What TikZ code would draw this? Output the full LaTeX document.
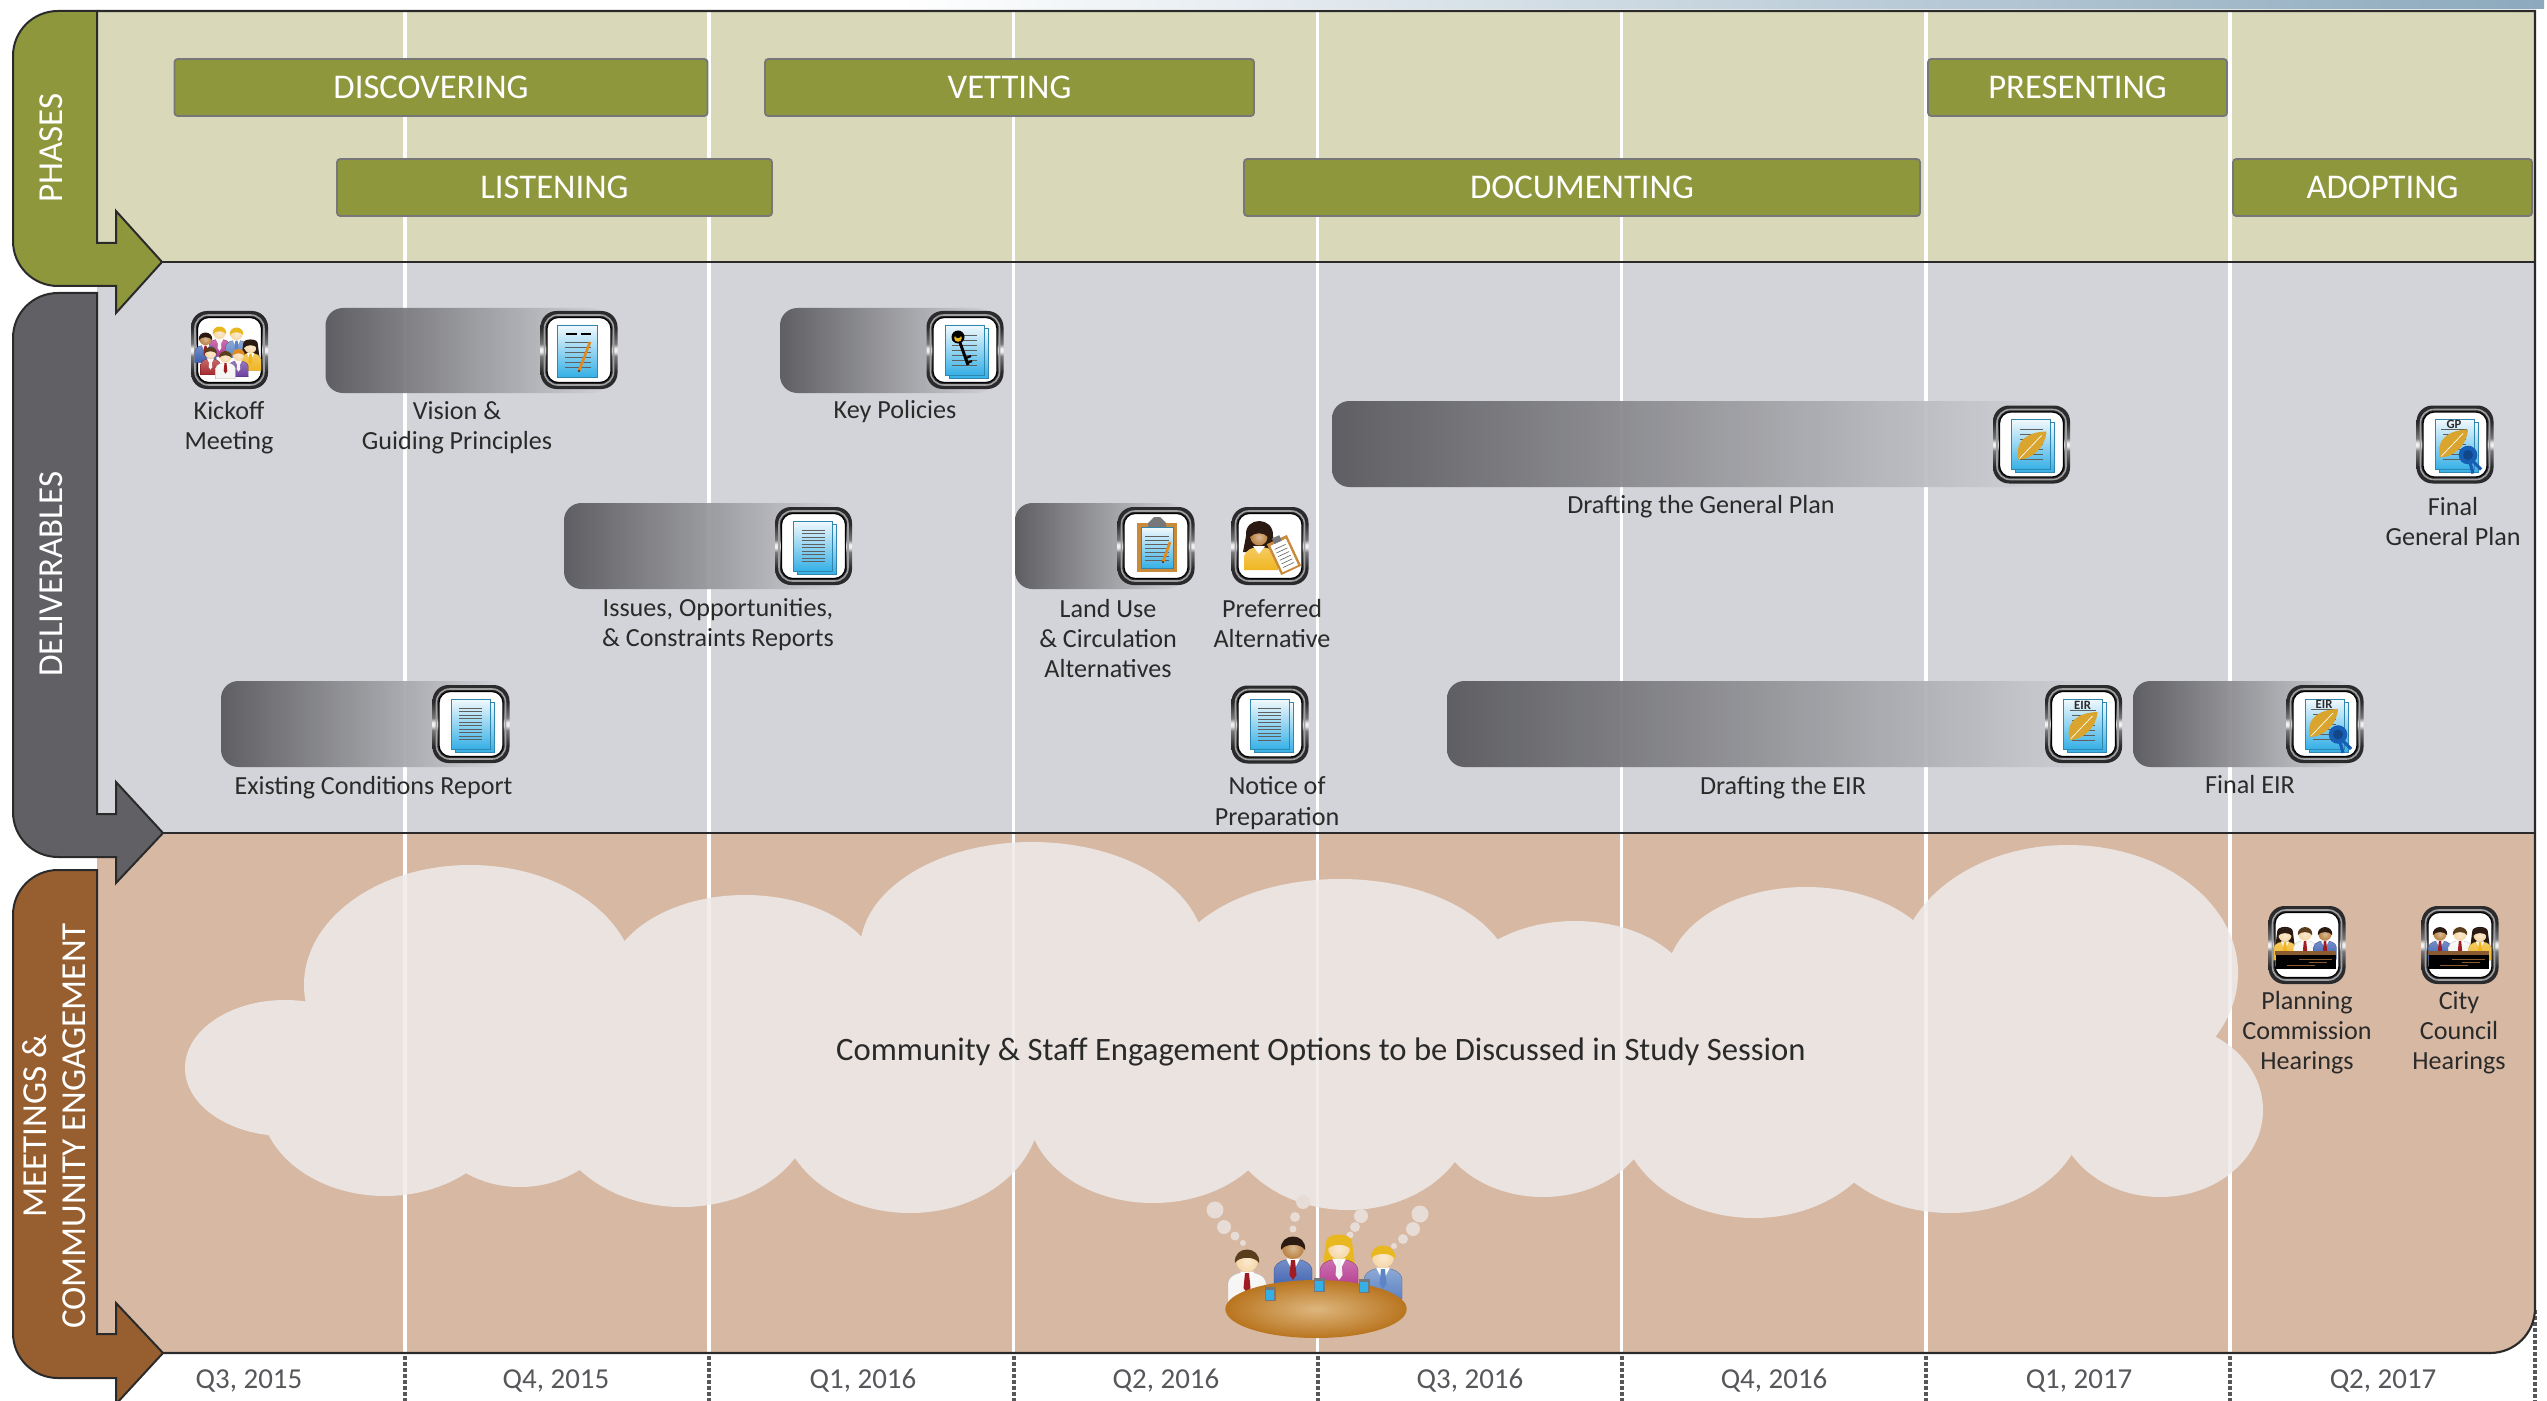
\documentclass[tikz,border=0pt]{standalone}
\usepackage{fontspec}
\setmainfont{Carlito}
\definecolor{phasePanel}{HTML}{D9D9B9}
\definecolor{delivPanel}{HTML}{D3D4D9}
\definecolor{meetPanel}{HTML}{D6B8A3}
\definecolor{olive}{HTML}{8E973C}
\definecolor{slate}{HTML}{616165}
\definecolor{rust}{HTML}{975F30}
\definecolor{ink}{HTML}{2A2A2A}
\definecolor{quarter}{HTML}{56575B}
\definecolor{cloudc}{HTML}{EFEBEB}
\definecolor{bubble}{HTML}{E7DCD6}
\definecolor{barDark}{HTML}{57575B}
\definecolor{metalD}{HTML}{2B2B2D}
\definecolor{metalM}{HTML}{77777A}
\definecolor{metalL}{HTML}{F0F0F0}
\definecolor{pageTop}{HTML}{F2F9FD}
\definecolor{pageMid}{HTML}{C4E6F5}
\definecolor{pageBot}{HTML}{35B0E6}
\definecolor{pageEdge}{HTML}{2F86AE}
\definecolor{skinL}{HTML}{F6D7A7}
\definecolor{skinD}{HTML}{B9803F}
\definecolor{hairB}{HTML}{5A3D1C}
\definecolor{hairK}{HTML}{2A1A12}
\definecolor{hairY}{HTML}{E9B71E}
\definecolor{hairO}{HTML}{E08A20}
\definecolor{shW}{HTML}{F4F4F2}
\definecolor{shB}{HTML}{3B5FB0}
\definecolor{shM}{HTML}{B5378F}
\definecolor{shL}{HTML}{5D84C4}
\definecolor{shR}{HTML}{A82A2E}
\definecolor{shY}{HTML}{F0B520}
\definecolor{shP}{HTML}{6B3FA0}
\definecolor{tieR}{HTML}{A01C22}
\definecolor{leafc}{HTML}{D9A52E}
\definecolor{ribbon}{HTML}{175FB5}
\definecolor{tableIn}{HTML}{DDB67E}
\definecolor{tableOut}{HTML}{B9751F}
\definecolor{board}{HTML}{C98A3C}
\definecolor{deskc}{HTML}{8A5A30}
\definecolor{topBlue}{HTML}{8CA9BD}
\pgfdeclareverticalshading{metal}{100bp}{color(0bp)=(metalD);color(36bp)=(metalD);color(46bp)=(metalM);color(49bp)=(metalL);color(51bp)=(metalL);color(54bp)=(metalM);color(64bp)=(metalD);color(100bp)=(metalD)}
\tikzset{
  panelline/.style={draw=ink,line width=1.6pt},
  tabline/.style={draw=ink,line width=1.5pt},
  quarterline/.style={draw=white,line width=2.5pt},
  dotline/.style={draw=quarter,line width=3pt,dash pattern=on 3pt off 1.5pt},
  phasebar/.style={draw=metalM,fill=olive,line width=1.4pt,rounded corners=2.5pt},
  phasetext/.style={text=white,font=\fontsize{26}{28}\selectfont},
  tabtext/.style={text=white,rotate=90,align=center,font=\fontsize{26.3}{29}\selectfont},
  lab/.style={text=ink,align=center,inner sep=0pt,font=\fontsize{19.6}{22.6}\selectfont},
  qlab/.style={text=quarter,inner sep=0pt,font=\fontsize{21.7}{24}\selectfont},
  bigtext/.style={text=ink,inner sep=0pt,font=\fontsize{24.5}{27}\selectfont},
  gbar/.style={left color=barDark,right color=delivPanel,fill opacity=.93,rounded corners=13pt},
  docline/.style={draw=ink!75,line width=.45pt},
  icontitle/.style={text=ink,inner sep=0pt,font=\fontsize{9.5}{10}\selectfont\bfseries},
}
\newcommand{\lab}[4]{\node[lab] (#1) at (#2,#3) {#4};}
\newcommand{\phbar}[6]{\draw[phasebar] (#2,#4) rectangle (#3,#5) node[midway,phasetext] (#1) {#6};}
\newcommand{\gradbar}[4]{\path[gbar] (#1,#2) rectangle (#3,#4);}
% person: x y scale skin hair shirt tie longhair
\newcommand{\fig}[8]{\begin{scope}[shift={(#1,#2)},scale=#3]
  \ifnum#8=1 \fill[#5] (-13,-6) .. controls (-13,-16) and (13,-16) .. (13,-6) -- (16,18) -- (-16,18) -- cycle;\fi
  \path[top color=#6!70!white,bottom color=#6,draw=#6!75!black,line width=.2pt] (-19,42) -- (-19,22) .. controls (-18,14) and (-8,11) .. (0,11) .. controls (8,11) and (18,14) .. (19,22) -- (19,42) -- cycle;
  \fill[white] (-7,10.5) -- (7,10.5) -- (0,24) -- cycle;
  \fill[#7] (-2,12) -- (2,12) -- (3.5,27) -- (0,32) -- (-3.5,27) -- cycle;
  \path[inner color=#4!55!white,outer color=#4] (0,0) circle [radius=11];
  \fill[#5] (-12,2) .. controls (-14,-16) and (14,-16) .. (12,2) .. controls (8,-5) and (-8,-5) .. (-12,2) -- cycle;
\end{scope}}
% icon frame
\newcommand{\iconbox}[4]{\begin{scope}[shift={(#2,#3)}]
  \path[shading=metal,rounded corners=12pt] (-38.5,-39) rectangle (38.5,39);
  \draw[draw=metalM!70!white,line width=1.2pt,rounded corners=10pt] (-34.5,-35) rectangle (34.5,35);
  \draw[draw=black,line width=.9pt,fill=white,rounded corners=8.5pt] (-32,-32.5) rectangle (32,32.5);
  \coordinate (#1) at (0,0);
  #4
\end{scope}}
\newcommand{\plainpage}[4]{\draw[pageEdge,line width=.5pt,top color=pageTop,middle color=pageMid,bottom color=pageBot] (#1,#2) rectangle (#3,#4);}
\newcommand{\stackpg}{\plainpage{-16}{-22}{23}{28}\plainpage{-20}{-25}{19}{25}}
\newcommand{\doclines}[3]{\foreach \yy in {#3} \draw[docline] (#1,\yy) -- (#2,\yy);}
\newcommand{\pencil}[4]{\draw[draw=hairO,line width=2pt] (#1,#2) -- (#3,#4);\fill[ink] (#3,#4) circle [radius=1.1];}
\newcommand{\leaf}{\fill[leafc] (-13,15) .. controls (-18,-6) and (0,-13) .. (15,-13) .. controls (14,3) and (0,15) .. (-13,15) -- cycle;
  \draw[white,line width=.5pt] (-12,14) -- (10,-9);}
\newcommand{\seal}{\draw[ribbon,line width=2.4pt] (14,14) -- (18,29) (15,14) -- (26,25);
  \fill[ribbon] (13,10.5) circle [radius=9.3];\fill[ribbon!75!black] (13,10.5) circle [radius=5];}
\newcommand{\desk}{\fill[black] (-31,14) rectangle (29,24);
  \fill[deskc] (-32,6) rectangle (29,10);
  \fill[black] (-31,10) rectangle (29,22);
  \draw[deskc,line width=.7pt] (-8,14) -- (25,14) (2,17) -- (20,17) (-20,20) -- (8,20);}
\begin{document}
\begin{tikzpicture}[x=.75pt,y=-.75pt,line join=miter]
\useasboundingbox (0,0) rectangle (2547,1401);
\clip (0,0) rectangle (2547,1401);
% top strip
\path[left color=white,right color=topBlue] (900,0) rectangle (2544,9);
\draw[dotline] (2535,1310) -- (2535,1401);
% panels
\fill[phasePanel] (97,11) rectangle (2535,262);
\fill[delivPanel] (97,262) rectangle (2535,833);
\fill[meetPanel] (97,833) -- (2535,833) -- (2535,1308) .. controls (2535,1333) and (2515,1353) .. (2490,1353) -- (97,1353) -- cycle;
% quarter dividers
\foreach \qx in {405,709,1013.5,1317.5,1621.5,1926,2230}{
  \draw[quarterline] (\qx,11) -- (\qx,1353);
  \draw[dotline] (\qx,1356) -- (\qx,1401);
}
% panel outlines
\draw[panelline] (97,11) -- (2535,11) -- (2535,1308) .. controls (2535,1333) and (2515,1353) .. (2490,1353) -- (97,1353);
\draw[panelline] (97,262) -- (2535,262);
\draw[panelline] (97,833) -- (2535,833);
% cloud
\fill[cloudc,fill opacity=.85]
  (285,1068) ellipse [x radius=100,y radius=68]
  (470,985) ellipse [x radius=166,y radius=120]
  (745,985) ellipse [x radius=138,y radius=90]
  (1032,950) ellipse [x radius=172,y radius=108]
  (1340,980) ellipse [x radius=172,y radius=101]
  (1575,1000) ellipse [x radius=120,y radius=79]
  (1806,980) ellipse [x radius=140,y radius=93]
  (2068,973) ellipse [x radius=170,y radius=128]
  (385,1100) ellipse [x radius=125,y radius=96]
  (520,1100) ellipse [x radius=100,y radius=87]
  (682,1110) ellipse [x radius=130,y radius=97]
  (910,1110) ellipse [x radius=130,y radius=103]
  (1153,1110) ellipse [x radius=125,y radius=93]
  (1348,1110) ellipse [x radius=125,y radius=100]
  (1543,1110) ellipse [x radius=110,y radius=87]
  (1754,1110) ellipse [x radius=135,y radius=108]
  (1950,1110) ellipse [x radius=135,y radius=103]
  (2160,1110) ellipse [x radius=103,y radius=87]
  (1300,1050) ellipse [x radius=900,y radius=90];
% tabs
\path[tabline,fill=olive] (97,11) -- (58,11) .. controls (33,11) and (13,31) .. (13,56) -- (13,241) .. controls (13,266) and (33,286) .. (58,286) -- (116,286) -- (116,313) -- (162,262) -- (116,211) -- (116,243) -- (97,243) -- cycle;
\path[tabline,fill=slate] (97,293) -- (58,293) .. controls (33,293) and (13,313) .. (13,338) -- (13,812) .. controls (13,837) and (33,857) .. (58,857) -- (116,857) -- (116,883) -- (163,833) -- (116,782) -- (116,814) -- (97,814) -- cycle;
\path[tabline,fill=rust] (97,870) -- (58,870) .. controls (33,870) and (13,890) .. (13,915) -- (13,1333) .. controls (13,1358) and (33,1378) .. (58,1378) -- (116,1378) -- (116,1404) -- (163,1353) -- (116,1303) -- (116,1334) -- (97,1334) -- cycle;
\node[tabtext] (tabPhases) at (51,148) {PHASES};
\node[tabtext] (tabDeliv) at (51,574) {DELIVERABLES};
\node[tabtext] (tabMeet) at (54,1126) {MEETINGS \&\\COMMUNITY ENGAGEMENT};
% phases
\draw[phasebar] (174.5,59) rectangle (707.5,116);
\node[phasetext] (pDiscover) at (431,87.5) {DISCOVERING};
\phbar{pListen}{337}{772}{159}{216}{LISTENING}
\phbar{pVet}{765}{1254}{59}{116}{VETTING}
\phbar{pDoc}{1244}{1920}{159}{216}{DOCUMENTING}
\phbar{pPresent}{1928}{2227}{59}{116}{PRESENTING}
\phbar{pAdopt}{2233}{2532}{159}{216}{ADOPTING}
% gradient bars
\gradbar{325.5}{308}{610}{393}
\gradbar{780}{308}{995}{393}
\gradbar{564}{503}{845}{589}
\gradbar{1015}{503}{1185}{589}
\gradbar{221}{681}{505}{767}
\gradbar{1332}{401}{2060}{487}
\gradbar{1447}{681}{2115}{767}
\gradbar{2133}{681}{2355}{767}
% icons
\iconbox{icKick}{229.5}{350}{
  \fig{-10}{-17}{.56}{skinL}{hairY}{shM}{shW}{0}
  \fig{7}{-16}{.56}{skinL}{hairY}{shL}{shL}{0}
  \fig{-24}{-11}{.56}{skinD}{hairK}{shB}{tieR}{0}
  \fig{21}{-3}{.56}{skinL}{hairK}{shY}{shY}{1}
  \fig{-19}{3}{.52}{skinL}{hairB}{shR}{shW}{0}
  \fig{9}{5}{.52}{skinL}{hairO}{shP}{shW}{0}
  \fig{-4}{7}{.52}{skinL}{hairB}{shW}{tieR}{0}
}
\iconbox{icVision}{579}{350}{
  \plainpage{-22}{-25}{18}{27}
  \draw[black,line width=1.4pt] (-13,-16) -- (-2,-16) (2,-16) -- (12,-16);
  \doclines{-14}{12}{-8,-3,2,7,12,17}
  \pencil{11}{-8}{0}{21}
}
\iconbox{icKey}{965}{350}{
  \stackpg
  \doclines{-13}{12}{-15,-10,-5,0,5,10,15}
  \draw[black,line width=2.2pt] (-7,-13) -- (3,15);
  \draw[black,line width=1.6pt] (1,8) -- (6,6) (2,13) -- (7,11);
  \fill[black] (-7,-13) circle [radius=6.5];
  \fill[hairY] (-7,-12) circle [radius=3.8];
  \fill[black] (-7,-15) circle [radius=3.2];
}
\iconbox{icIssues}{813.5}{546}{\stackpg\doclines{-12}{11}{-16,-12.5,-9,-5.5,-2,1.5,5,8.5,12,15.5}}
\iconbox{icLand}{1156}{546}{
  \fill[board] (-19,-23) rectangle (21,26);
  \draw[pageEdge,line width=.3pt,top color=pageTop,middle color=pageMid,bottom color=pageBot] (-15,-19) rectangle (17,22);
  \fill[metalM] (-8,-23) -- (-2,-29) -- (4,-29) -- (10,-23) -- (10,-19) -- (-8,-19) -- cycle;
  \doclines{-11}{13}{-10,-6,-2,2,6,10,14}
  \pencil{14}{-4}{7}{16}
}
\iconbox{icPref}{1270}{546}{
  \fill[hairK] (-24,-10) .. controls (-26,-30) and (4,-30) .. (3,-10) -- (6,6) -- (-27,6) -- cycle;
  \path[top color=shY!70!white,bottom color=shY] (-26,24) -- (-26,10) .. controls (-24,4) and (-18,1) .. (-11,1) .. controls (-4,1) and (6,4) .. (8,10) -- (8,24) -- cycle;
  \fill[white] (-17,0) -- (-5,0) -- (-11,8) -- cycle;
  \path[inner color=skinD!55!white,outer color=skinD] (-11,-9) circle [radius=8.5];
  \fill[hairK] (-20,-9) .. controls (-20,-24) and (-2,-24) .. (-2,-9) .. controls (-6,-14) and (-16,-14) .. (-20,-9) -- cycle;
  \begin{scope}[shift={(14,9)},rotate=25]
    \fill[board] (-11,-17) rectangle (11,17);
    \fill[white] (-8.5,-14) rectangle (8.5,15);
    \doclines{-6}{6}{-9,-5,-1,3,7,11}
    \fill[metalM] (-4,-20) rectangle (4,-14);
  \end{scope}
}
\iconbox{icNotice}{1270}{724.5}{\stackpg\doclines{-12}{11}{-16,-12.5,-9,-5.5,-2,1.5,5,8.5,12,15.5}}
\iconbox{icExist}{471}{724}{\stackpg\doclines{-12}{11}{-16,-12.5,-9,-5.5,-2,1.5,5,8.5,12,15.5}}
\iconbox{icDraftGP}{2031.5}{444.5}{\stackpg\doclines{-12}{11}{-15,-10,-5,0,5,10,15}\leaf}
\iconbox{icFinalGP}{2455}{444.5}{\stackpg
  \node[icontitle] (gpTitle) at (-1,-20) {GP};
  \draw[docline] (-14,-15) -- (12,-15);
  \doclines{-12}{11}{-10,-5,0,5,10,15}
  \begin{scope}[shift={(-2,-2)}]\leaf\end{scope}
  \seal}
\iconbox{icDraftEIR}{2083.5}{724}{\stackpg
  \node[icontitle] (eirTitleA) at (-1,-19) {EIR};
  \draw[docline] (-14,-14) -- (12,-14);
  \doclines{-12}{11}{-9,-4,1,6,11,16}
  \begin{scope}[shift={(-1,1)}]\leaf\end{scope}}
\iconbox{icFinalEIR}{2325}{724}{\stackpg
  \node[icontitle] (eirTitleB) at (-1,-20) {EIR};
  \draw[docline] (-14,-15) -- (12,-15);
  \doclines{-12}{11}{-10,-5,0,5,10,15}
  \begin{scope}[shift={(-2,-2)}]\leaf\end{scope}
  \seal}
\iconbox{icPlan}{2307}{945}{
  \fig{-22}{-10}{.6}{skinL}{hairK}{shY}{shY}{1}
  \fig{-2}{-11}{.6}{skinL}{hairB}{shW}{tieR}{0}
  \fig{18}{-11}{.6}{skinD}{hairK}{shB}{tieR}{0}
  \desk
}
\iconbox{icCity}{2460}{945}{
  \fig{-20}{-11}{.6}{skinD}{hairK}{shB}{tieR}{0}
  \fig{0}{-11}{.6}{skinL}{hairB}{shW}{tieR}{0}
  \fig{20}{-10}{.6}{skinL}{hairK}{shY}{shY}{1}
  \desk
}
% deliverable labels
\lab{lKick}{229}{427.5}{Kickoff\\Meeting}
\lab{lVision}{457}{427.5}{Vision \&\\Guiding Principles}
\lab{lKey}{895}{412}{Key Policies}
\lab{lIssues}{718}{625}{Issues, Opportunities,\\\& Constraints Reports}
\lab{lLand}{1108}{638.5}{Land Use\\\& Circulation\\Alternatives}
\lab{lPref}{1272}{623.5}{Preferred\\Alternative}
\lab{lNotice}{1277}{803}{Notice of\\Preparation}
\lab{lExist}{373.5}{787.5}{Existing Conditions Report}
\lab{lDraftGP}{1701}{507}{Drafting the General Plan}
\lab{lFinalGP}{2453}{521.5}{Final\\General Plan}
\lab{lDraftEIR}{1783}{787.5}{Drafting the EIR}
\lab{lFinalEIR}{2250}{785}{Final EIR}
\lab{lPlan}{2307}{1033}{Planning\\Commission\\Hearings}
\lab{lCity}{2459}{1033}{City\\Council\\Hearings}
\node[bigtext] (cloudText) at (1321,1052) {Community \& Staff Engagement Options to be Discussed in Study Session};
% thought bubbles
\fill[bubble] (1215,1210) circle [radius=8.5] (1224,1227) circle [radius=7] (1235,1236) circle [radius=4.5] (1243,1243) circle [radius=3]
  (1303,1202) circle [radius=7] (1295,1217) circle [radius=5] (1293,1229) circle [radius=3.5]
  (1361,1216) circle [radius=7] (1355,1227) circle [radius=5] (1350,1235) circle [radius=3.5]
  (1420,1214) circle [radius=8.5] (1413,1229) circle [radius=7] (1403,1239) circle [radius=5] (1394,1246) circle [radius=3];
% round table group
\fig{1247}{1261}{1}{skinL}{hairB}{shW}{tieR}{0}
\fig{1293}{1248}{1}{skinD}{hairK}{shB}{tieR}{0}
\fig{1339}{1248}{1}{skinL}{hairY}{shM}{shW}{1}
\fig{1383}{1257}{1}{skinL}{hairY}{shL}{shL}{0}
\path[inner color=tableIn,outer color=tableOut] (1316,1309) ellipse [x radius=90.7,y radius=29];
\foreach \gx/\gy in {1270/1294,1319/1285,1364/1286}{
  \fill[metalM] (\gx-5.5,\gy-7) rectangle (\gx+5.5,\gy+7);
  \fill[pageBot] (\gx-4,\gy-4) rectangle (\gx+4,\gy+6);
}
% quarter labels
\node[qlab] (q1) at (249,1381) {Q3, 2015};
\node[qlab] (q2) at (556,1381) {Q4, 2015};
\node[qlab] (q3) at (863,1381) {Q1, 2016};
\node[qlab] (q4) at (1166,1381) {Q2, 2016};
\node[qlab] (q5) at (1470,1381) {Q3, 2016};
\node[qlab] (q6) at (1774,1381) {Q4, 2016};
\node[qlab] (q7) at (2079,1381) {Q1, 2017};
\node[qlab] (q8) at (2383,1381) {Q2, 2017};
\end{tikzpicture}
\end{document}
